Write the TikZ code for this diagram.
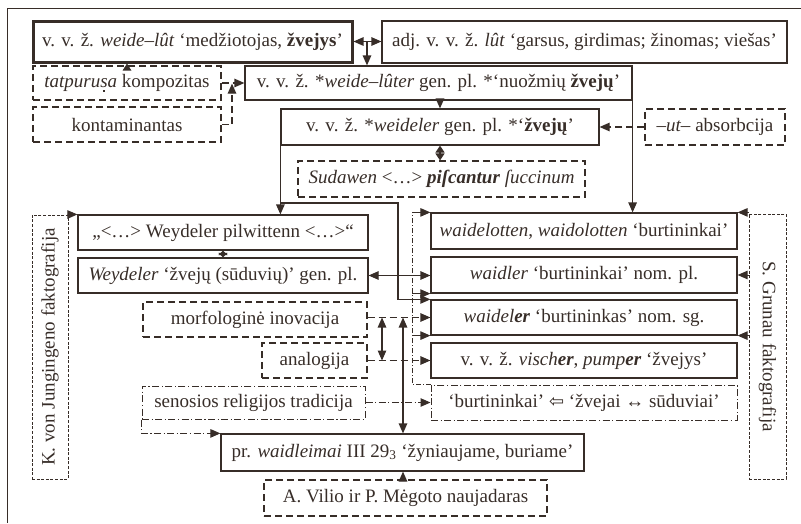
\documentclass[tikz,border=0pt]{standalone}
\usepackage{fontspec}
\setmainfont{Liberation Serif}
\newfontfamily\arrfont{DejaVu Sans}
\usetikzlibrary{arrows.meta}
\definecolor{ink}{RGB}{55,45,40}
\newcommand\sdotbelow{s\llap{\raisebox{-0.22em}{\rule{0.1em}{0.1em}}\hspace{0.16em}}}
\begin{document}
\begin{tikzpicture}[x=1pt,y=-1pt,
  every node/.style={font=\fontsize{19}{22}\selectfont, text=ink, inner sep=0pt},
  box/.style={draw=ink, line width=1.2pt, rectangle},
  thickbox/.style={draw=ink, line width=3pt, rectangle},
  dbox/.style={draw=ink, line width=1.2pt, dash pattern=on 7pt off 4pt},
  ddbox/.style={draw=ink, line width=1pt, dash pattern=on 7pt off 2.5pt on 1.2pt off 2.5pt},
  fbox/.style={draw=ink, line width=1pt, dash pattern=on 3pt off 1.6pt},
  conn/.style={draw=ink, line width=1.2pt, -{Triangle[length=10pt,width=8.5pt]}},
  sconn/.style={draw=ink, line width=1.2pt, -{Triangle[length=7pt,width=8.5pt]}},
  conn2/.style={draw=ink, line width=1.2pt, {Triangle[length=10pt,width=8.5pt]}-{Triangle[length=10pt,width=8.5pt]}},
  diam/.style={draw=ink, line width=1.2pt, {Triangle[length=7pt,width=9pt]}-{Triangle[length=7pt,width=9pt]}},
  dconn/.style={conn, dash pattern=on 7pt off 4pt},
  ddconn/.style={conn, line width=1pt, dash pattern=on 7pt off 2.5pt on 1.2pt off 2.5pt},
  thinline/.style={draw=ink, line width=0.9pt, dash pattern=on 5pt off 2pt on 1pt off 2pt},
  fconn/.style={conn, line width=1pt, dash pattern=on 3pt off 1.6pt},
  ]
\useasboundingbox (0,0) rectangle (801,523);
% outer frame
\draw[ink, line width=1pt] (801,8) -- (7,8) -- (7,523);

% nodes
\node[thickbox, minimum width=319, minimum height=41] (A) at (192.5,41.5) {v. v. ž. \textit{weide–lût} ‘medžiotojas, \textbf{žvejys}’};
\node[box, minimum width=405, minimum height=42] (B) at (584.5,42) {adj. v. v. ž. \textit{lût} ‘garsus, girdimas; žinomas; viešas’};
\node[dbox, minimum width=188, minimum height=34] (tat) at (127,83) {\textit{tatpuru\sdotbelow a} kompozitas};
\node[dbox, minimum width=188, minimum height=35] (kont) at (127,124.5) {kontaminantas};
\node[box, minimum width=387, minimum height=34] (C) at (438.5,83) {v. v. ž. *\textit{weide–lûter} gen. pl. *‘nuožmių \textbf{žvejų}’};
\node[box, minimum width=318, minimum height=36] (D) at (440,127) {v. v. ž. *\textit{weideler} gen. pl. *‘\textbf{žvejų}’};
\node[dbox, minimum width=140, minimum height=36] (abs) at (715,127) {\textit{–ut–} absorbcija};
\node[dbox, minimum width=287, minimum height=36] (E) at (441.5,179) {\textit{Sudawen} <…> \textbf{\textit{piſcantur}} \textit{ſuccinum}};
\node[box, minimum width=290, minimum height=35] (F) at (223,232.5) {„<…> Weydeler pilwittenn <…>“};
\node[box, minimum width=290, minimum height=35] (K) at (223,275.5) {\textit{Weydeler} ‘žvejų (sūduvių)’ gen. pl.};
\node[box, minimum width=306, minimum height=36] (G1) at (584,231) {\textit{waidelotten}, \textit{waidolotten} ‘burtininkai’};
\node[box, minimum width=306, minimum height=36] (G2) at (584,275) {\textit{waidler} ‘burtininkai’ nom. pl.};
\node[box, minimum width=306, minimum height=35] (G3) at (584,317.5) {\textit{waidel\textbf{er}} ‘burtininkas’ nom. sg.};
\node[box, minimum width=306, minimum height=35] (G4) at (584,360.5) {v. v. ž. \textit{visch\textbf{er}}, \textit{pump\textbf{er}} ‘žvejys’};
\node[ddbox, minimum width=306, minimum height=35] (H) at (584,402.5) {‘burtininkai’ {\arrfont\fontsize{18}{18}\selectfont ⇦} ‘žvejai ↔ sūduviai’};
\node[dbox, minimum width=224, minimum height=35] (morf) at (255,319.5) {morfologinė inovacija};
\node[dbox, minimum width=105, minimum height=35] (anal) at (314.5,360.5) {analogija};
\node[ddbox, minimum width=223, minimum height=33] (sen) at (253.5,402.5) {senosios religijos tradicija};
\node[box, minimum width=363, minimum height=37] (I) at (402.5,452.5) {pr. \textit{waidleimai} III 29\textsubscript{3} ‘žyniaujame, buriame’};
\node[dbox, minimum width=283, minimum height=36] (J) at (405.5,498) {A. Vilio ir P. Mėgoto naujadaras};
\node[fbox, minimum width=36, minimum height=264] (jung) at (50,347) {};
\node[rotate=90] (jungt) at (jung.center) {K. von Jungingeno faktografija};
\node[fbox, minimum width=37, minimum height=265] (gru) at (767.5,346.5) {};
\node[rotate=-90] (grut) at (gru.center) {S. Grunau faktografija};

% helper coordinates
\coordinate (ab) at (367,41.5);
\coordinate (kx) at (232,83);
\coordinate (br) at (281,203);
\coordinate (ux) at (398,0);
\coordinate (dd) at (412,0);
\coordinate (mx) at (382,0);
\coordinate (vx) at (403,0);

% connectors
\draw[conn2] (A.east) -- (A.east -| B.west);
\draw[conn] (ab) -- (ab |- C.north);
\draw[sconn] (tat.north) -- (tat.north |- A.south);
\draw[dconn] (tat.east) -- (tat.east -| C.west);
\draw[dconn, shorten >=0.6pt] (kont.east) -| (kx);
\draw[conn] (C.south -| D.north) -- (D.north);
\draw[dconn] (abs.west) -- (D.east);
\draw[diam] (D.south) -- (D.south |- E.north);
\draw[conn] (C.south east) -- (C.south east |- G1.north);
\draw[conn] (D.south west) -- (D.south west |- F.north);
\draw[conn] (br) -- (ux |- br) -- (ux |- G3.north) -- (G3.north west);
\draw[draw=ink, line width=1.2pt, {Triangle[length=4.5pt,width=9pt]}-{Triangle[length=4.5pt,width=9pt]}] (F.south) -- (K.north);
\draw[fconn] (jung.north east) -- (F.north west);
\draw[conn2] (K.east) -- (K.east -| G2.west);
\draw[thinline] (H.north west) -- (dd |- H.north) -- (dd |- G1.north);
\draw[conn, line width=1pt] (dd |- G1.north) -- (G1.north west);
\draw[conn, line width=1pt] (dd |- G2.south) -- (G2.south west);
\draw[conn, line width=1pt] (dd |- G3.south) -- (G3.south west);
\draw[fconn] (gru.west |- G1.north) -- (G1.north east);
\draw[fconn] (gru.west |- G2.east) -- (G2.east);
\draw[fconn] (gru.west |- G3.south) -- (G3.south east);
\draw[dconn] (morf.east |- G3.west) -- (G3.west);
\draw[dconn] (anal.east |- G4.west) -- (G4.west);
\draw[conn2] (mx |- G3.west) -- (mx |- G4.west);
\draw[conn2] (vx |- G3.west) -- (vx |- I.north);
\draw[ddconn] (sen.east |- H.west) -- (H.west);
\draw[ddconn] (sen.south west) -- (sen.south west |- I.north) -- (I.north west);
\draw[conn] (vx |- J.north) -- (vx |- I.south);
\end{tikzpicture}
\end{document}
